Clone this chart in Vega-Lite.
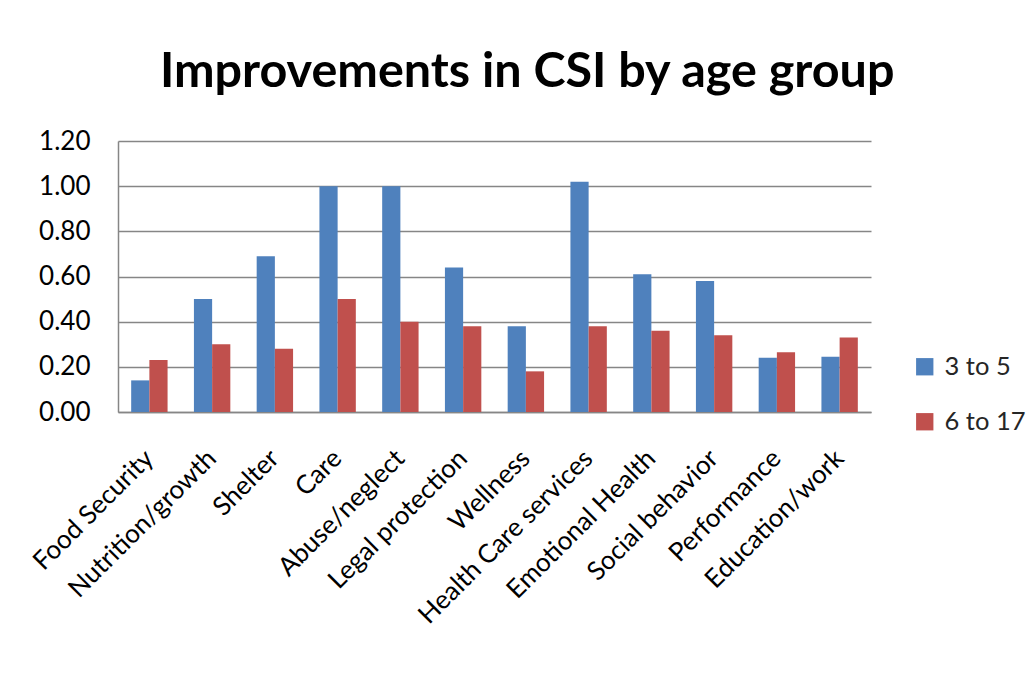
{
  "$schema": "https://vega.github.io/schema/vega-lite/v6.json",
  "width": 753,
  "height": 271,
  "autosize": {"type": "none"},
  "padding": {"left": 118, "top": 141, "right": 165, "bottom": 265},
  "background": "white",
  "title": {
    "text": "Improvements in CSI by age group",
    "font": "Lato",
    "fontWeight": "bold",
    "fontSize": 48.5,
    "color": "#000000",
    "anchor": "middle",
    "frame": "bounds",
    "offset": 31
  },
  "data": {
    "values": [
      {"domain": "Food Security", "age": "3 to 5", "value": 0.14},
      {"domain": "Food Security", "age": "6 to 17", "value": 0.23},
      {"domain": "Nutrition/growth", "age": "3 to 5", "value": 0.50},
      {"domain": "Nutrition/growth", "age": "6 to 17", "value": 0.30},
      {"domain": "Shelter", "age": "3 to 5", "value": 0.69},
      {"domain": "Shelter", "age": "6 to 17", "value": 0.28},
      {"domain": "Care", "age": "3 to 5", "value": 1.00},
      {"domain": "Care", "age": "6 to 17", "value": 0.50},
      {"domain": "Abuse/neglect", "age": "3 to 5", "value": 1.00},
      {"domain": "Abuse/neglect", "age": "6 to 17", "value": 0.40},
      {"domain": "Legal protection", "age": "3 to 5", "value": 0.64},
      {"domain": "Legal protection", "age": "6 to 17", "value": 0.38},
      {"domain": "Wellness", "age": "3 to 5", "value": 0.38},
      {"domain": "Wellness", "age": "6 to 17", "value": 0.18},
      {"domain": "Health Care services", "age": "3 to 5", "value": 1.02},
      {"domain": "Health Care services", "age": "6 to 17", "value": 0.38},
      {"domain": "Emotional Health", "age": "3 to 5", "value": 0.61},
      {"domain": "Emotional Health", "age": "6 to 17", "value": 0.36},
      {"domain": "Social behavior", "age": "3 to 5", "value": 0.58},
      {"domain": "Social behavior", "age": "6 to 17", "value": 0.34},
      {"domain": "Performance", "age": "3 to 5", "value": 0.24},
      {"domain": "Performance", "age": "6 to 17", "value": 0.265},
      {"domain": "Education/work", "age": "3 to 5", "value": 0.245},
      {"domain": "Education/work", "age": "6 to 17", "value": 0.33}
    ]
  },
  "mark": {"type": "bar"},
  "encoding": {
    "x": {
      "field": "domain",
      "type": "nominal",
      "sort": null,
      "scale": {"paddingInner": 0.42, "paddingOuter": 0.21},
      "axis": {
        "title": null,
        "labelAngle": -45,
        "labelAlign": "right",
        "labelBaseline": "middle",
        "labelFont": "Lato",
        "labelFontSize": 26,
        "labelColor": "#000000",
        "labelPadding": 42,
        "ticks": false,
        "domainColor": "#868686",
        "domainWidth": 1.5,
        "labelLimit": 400
      }
    },
    "xOffset": {"field": "age", "type": "nominal"},
    "y": {
      "field": "value",
      "type": "quantitative",
      "scale": {"domain": [0, 1.2], "nice": false},
      "axis": {
        "title": null,
        "values": [0, 0.2, 0.4, 0.6, 0.8, 1.0, 1.2],
        "format": ".2f",
        "labelFont": "Lato",
        "labelFontSize": 26,
        "labelColor": "#000000",
        "labelPadding": 28,
        "ticks": false,
        "grid": true,
        "gridColor": "#868686",
        "gridWidth": 1.5,
        "domainColor": "#868686",
        "domainWidth": 1.5
      }
    },
    "color": {
      "field": "age",
      "type": "nominal",
      "scale": {"domain": ["3 to 5", "6 to 17"], "range": ["#4F81BD", "#C0504D"]},
      "legend": {
        "title": null,
        "orient": "none",
        "legendX": 794,
        "legendY": 213,
        "symbolType": "square",
        "symbolSize": 300,
        "symbolStrokeWidth": 0,
        "labelFont": "Lato",
        "labelFontSize": 25.5,
        "labelColor": "#262626",
        "rowPadding": 28,
        "labelOffset": 7
      }
    }
  },
  "config": {
    "view": {"stroke": null}
  }
}
